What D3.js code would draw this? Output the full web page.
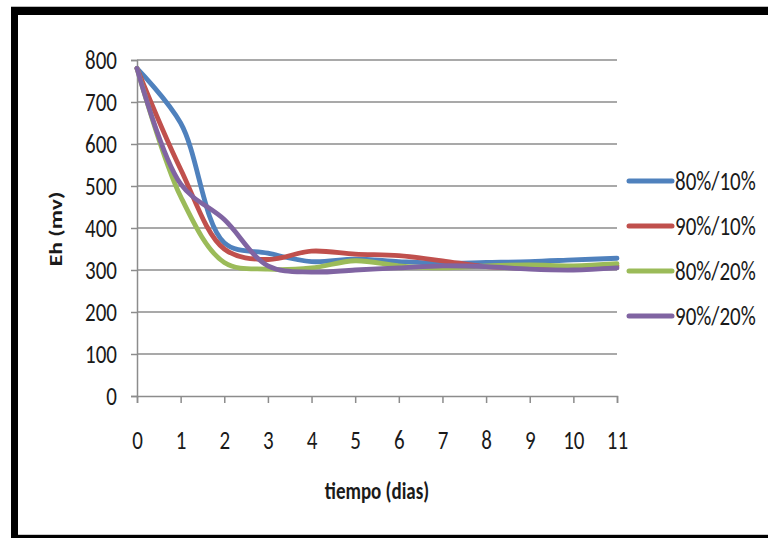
<!DOCTYPE html>
<html>
<head>
<meta charset="utf-8">
<script src="https://cdn.jsdelivr.net/npm/d3@7"></script>
<style>
  html, body { margin: 0; padding: 0; background: #fff; }
  svg { display: block; }
  text { font-family: "Carlito", "Lato", "Liberation Sans Narrow", sans-serif; fill: #1a1a1a; }
</style>
</head>
<body>
<svg id="chart" width="768" height="538"></svg>
<script>
// Eh (mV) over time for four moisture / amendment treatments
const days = [0, 1, 2, 3, 4, 5, 6, 7, 8, 9, 10, 11];
const seriesNames = ["80%/10%", "90%/10%", "80%/20%", "90%/20%"];
const seriesColors = ["#4F81BD", "#C0504D", "#9BBB59", "#8064A2"];
const eh80_10 = [780, 650, 365, 340, 320, 326, 320, 316, 318, 320, 324, 328];
const eh90_10 = [780, 540, 350, 325, 345, 338, 334, 322, 308, 305, 305, 310];
const eh80_20 = [780, 475, 318, 302, 305, 322, 310, 305, 310, 312, 310, 315];
const eh90_20 = [780, 505, 420, 310, 295, 300, 305, 310, 308, 302, 300, 305];
const yTicks = [0, 100, 200, 300, 400, 500, 600, 700, 800];

const seriesValues = [eh80_10, eh90_10, eh80_20, eh90_20];

const svg = d3.select("#chart");
const stretch = 1.25; // text is drawn slightly tall and narrow

// outer frame
svg.append("rect").attr("x", 11).attr("y", 6).attr("width", 757).attr("height", 532).attr("fill", "#000");
svg.append("rect").attr("x", 18).attr("y", 15).attr("width", 750).attr("height", 520).attr("fill", "#fff");
svg.append("line").attr("x1", 11).attr("x2", 768).attr("y1", 6.5).attr("y2", 6.5).attr("stroke", "#bbb");
svg.append("line").attr("x1", 18).attr("x2", 768).attr("y1", 534.5).attr("y2", 534.5).attr("stroke", "#ccc");

const plotLeft = 137, plotRight = 617, plotTop = 60, plotBottom = 396;
const x = d3.scaleLinear().domain([0, 11]).range([plotLeft, plotRight]);
const y = d3.scaleLinear().domain([0, 800]).range([plotBottom, plotTop]);

const gridColor = "#8c8c8c";

// horizontal gridlines
svg.append("g")
  .selectAll("line")
  .data(yTicks.filter(d => d > 0))
  .join("line")
  .attr("x1", plotLeft).attr("x2", plotRight)
  .attr("y1", d => y(d)).attr("y2", d => y(d))
  .attr("stroke", gridColor).attr("stroke-width", 1.5);

// y axis
const yAxis = svg.append("g")
  .attr("transform", `translate(${plotLeft},0)`)
  .call(d3.axisLeft(y).tickValues(yTicks).tickSize(6).tickPadding(14).tickFormat(d3.format("d")));
yAxis.attr("font-family", null);
yAxis.select(".domain").attr("stroke", gridColor).attr("stroke-width", 1.5);
yAxis.selectAll(".tick line").attr("stroke", gridColor).attr("stroke-width", 1.5);
yAxis.selectAll(".tick text")
  .attr("font-size", 21).attr("fill", "#1a1a1a")
  .attr("dy", "0.33em")
  .attr("transform", `scale(1,${stretch})`);

// x axis
const xAxis = svg.append("g")
  .attr("transform", `translate(0,${plotBottom})`)
  .call(d3.axisBottom(x).tickValues(days).tickSize(7).tickFormat(d3.format("d")));
xAxis.attr("font-family", null);
xAxis.select(".domain").attr("stroke", gridColor).attr("stroke-width", 1.5);
xAxis.selectAll(".tick line").attr("stroke", gridColor).attr("stroke-width", 1.5);
xAxis.selectAll(".tick text")
  .attr("font-size", 21).attr("fill", "#1a1a1a")
  .attr("y", 0).attr("dy", "0.33em")
  .attr("transform", `translate(0,44) scale(1,${stretch})`);

// axis titles
svg.append("text")
  .attr("transform", `translate(377,491) scale(1,${stretch})`)
  .attr("text-anchor", "middle").attr("dy", "0.33em")
  .attr("font-size", 19).attr("font-weight", "bold")
  .text("tiempo (dias)");
svg.append("text")
  .attr("transform", `translate(56,229) scale(1,${stretch}) rotate(-90)`)
  .attr("text-anchor", "middle").attr("dy", "0.33em")
  .attr("font-size", 19).attr("font-weight", "bold")
  .text("Eh (mv)");

// smoothed series lines
const line = d3.line()
  .x((d, i) => x(days[i]))
  .y(d => y(d))
  .curve(d3.curveCatmullRom.alpha(0.5));

svg.append("g")
  .selectAll("path")
  .data(seriesValues)
  .join("path")
  .attr("d", d => line(d))
  .attr("fill", "none")
  .attr("stroke", (d, i) => seriesColors[i])
  .attr("stroke-width", 4.8)
  .attr("stroke-linecap", "round")
  .attr("stroke-linejoin", "round");

// legend
const legend = svg.append("g")
  .selectAll("g")
  .data(seriesNames)
  .join("g")
  .attr("transform", (d, i) => `translate(629,${181 + i * 45})`);
legend.append("line")
  .attr("x1", 0).attr("x2", 43)
  .attr("stroke", (d, i) => seriesColors[i])
  .attr("stroke-width", 5)
  .attr("stroke-linecap", "round");
legend.append("text")
  .attr("x", 46).attr("dy", "0.33em")
  .attr("transform", `scale(1,${stretch})`)
  .attr("font-size", 21)
  .text(d => d);
</script>
</body>
</html>
